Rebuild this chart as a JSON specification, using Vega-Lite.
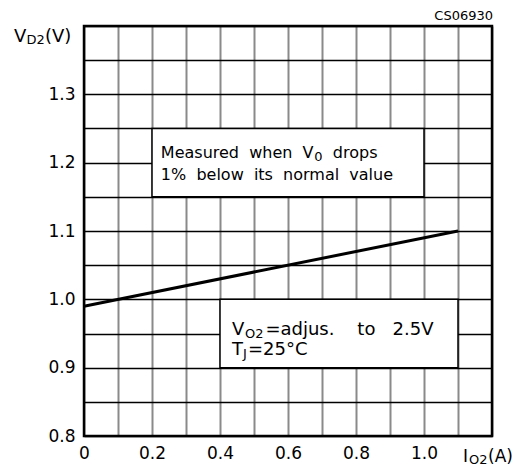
{
  "$schema": "https://vega.github.io/schema/vega-lite/v6.json",
  "width": 408,
  "height": 410,
  "autosize": {"type": "none"},
  "padding": {"left": 84, "top": 26, "right": 37, "bottom": 34},
  "background": "white",
  "config": {
    "view": {"stroke": null},
    "font": "DejaVu Sans",
    "axisX": {
      "tickCount": 12, "grid": true, "gridColor": "#8a8a8a", "gridWidth": 2, "gridOpacity": 1,
      "ticks": false, "domain": false, "labelFontSize": 17, "labelColor": "black",
      "labelPadding": 9, "labelFlush": false, "labelOverlap": false, "labelBound": false,
      "labelExpr": "datum.value == 0 ? '0' : ((round(datum.value*10) % 2 == 0 && datum.value < 1.15) ? format(datum.value, '.1f') : '')"
    },
    "axisY": {
      "tickCount": 12, "grid": true, "gridColor": "black", "gridWidth": 1.3, "gridOpacity": 1,
      "ticks": false, "domain": false, "labelFontSize": 17, "labelColor": "black",
      "labelPadding": 9, "labelFlush": false, "labelOverlap": false, "labelBound": false,
      "labelExpr": "(round(datum.value*100) % 10 == 0 && datum.value < 1.35) ? format(datum.value, '.1f') : ''"
    }
  },
  "layer": [
    {
      "data": {"values": [{"I": 0, "V": 0.99}, {"I": 1.1, "V": 1.1}]},
      "mark": {"type": "line", "color": "black", "strokeWidth": 3},
      "encoding": {
        "x": {"field": "I", "type": "quantitative", "scale": {"domain": [0, 1.2], "nice": false, "zero": false}, "axis": {"title": null}},
        "y": {"field": "V", "type": "quantitative", "scale": {"domain": [0.8, 1.4], "nice": false, "zero": false}, "axis": {"title": null}}
      }
    },
    {
      "data": {"values": [{}]},
      "mark": {"type": "rect", "fill": "white", "stroke": "black", "strokeWidth": 1.5},
      "encoding": {"x": {"datum": 0.2}, "x2": {"datum": 1.0}, "y": {"datum": 1.15}, "y2": {"datum": 1.25}}
    },
    {
      "data": {"values": [{}]},
      "mark": {"type": "rect", "fill": "white", "stroke": "black", "strokeWidth": 1.5},
      "encoding": {"x": {"datum": 0.4}, "x2": {"datum": 1.1}, "y": {"datum": 0.9}, "y2": {"datum": 1.0}}
    },
    {
      "data": {"values": [{}]},
      "mark": {"type": "rect", "fillOpacity": 0, "stroke": "black", "strokeWidth": 2.5},
      "encoding": {"x": {"datum": 0}, "x2": {"datum": 1.2}, "y": {"datum": 0.8}, "y2": {"datum": 1.4}}
    },
    {
      "data": {"values": [{}]},
      "mark": {"type": "text", "align": "left", "baseline": "alphabetic", "fontSize": 16, "text": "Measured\u00a0\u00a0when\u00a0\u00a0V"},
      "encoding": {"x": {"datum": 0.226}, "y": {"datum": 1.2067}}
    },
    {
      "data": {"values": [{}]},
      "mark": {"type": "text", "align": "left", "baseline": "alphabetic", "fontSize": 13, "dx": 153.5, "dy": 3, "text": "0"},
      "encoding": {"x": {"datum": 0.226}, "y": {"datum": 1.2067}}
    },
    {
      "data": {"values": [{}]},
      "mark": {"type": "text", "align": "left", "baseline": "alphabetic", "fontSize": 16, "dx": 172, "text": "drops"},
      "encoding": {"x": {"datum": 0.226}, "y": {"datum": 1.2067}}
    },
    {
      "data": {"values": [{}]},
      "mark": {"type": "text", "align": "left", "baseline": "alphabetic", "fontSize": 16, "text": "1%\u00a0\u00a0below\u00a0\u00a0its\u00a0\u00a0normal\u00a0\u00a0value"},
      "encoding": {"x": {"datum": 0.226}, "y": {"datum": 1.1745}}
    },
    {
      "data": {"values": [{}]},
      "mark": {"type": "text", "align": "left", "baseline": "alphabetic", "fontSize": 18, "text": "V"},
      "encoding": {"x": {"datum": 0.435}, "y": {"datum": 0.9476}}
    },
    {
      "data": {"values": [{}]},
      "mark": {"type": "text", "align": "left", "baseline": "alphabetic", "fontSize": 13, "dx": 13, "dy": 3, "text": "O2"},
      "encoding": {"x": {"datum": 0.435}, "y": {"datum": 0.9476}}
    },
    {
      "data": {"values": [{}]},
      "mark": {"type": "text", "align": "left", "baseline": "alphabetic", "fontSize": 18, "dx": 33.5, "text": "=adjus.\u00a0\u00a0\u00a0\u00a0to\u00a0\u00a0\u00a02.5V"},
      "encoding": {"x": {"datum": 0.435}, "y": {"datum": 0.9476}}
    },
    {
      "data": {"values": [{}]},
      "mark": {"type": "text", "align": "left", "baseline": "alphabetic", "fontSize": 18, "text": "T"},
      "encoding": {"x": {"datum": 0.435}, "y": {"datum": 0.918}}
    },
    {
      "data": {"values": [{}]},
      "mark": {"type": "text", "align": "left", "baseline": "alphabetic", "fontSize": 13, "dx": 11, "dy": 3, "text": "J"},
      "encoding": {"x": {"datum": 0.435}, "y": {"datum": 0.918}}
    },
    {
      "data": {"values": [{}]},
      "mark": {"type": "text", "align": "left", "baseline": "alphabetic", "fontSize": 18, "dx": 16, "text": "=25°C"},
      "encoding": {"x": {"datum": 0.435}, "y": {"datum": 0.918}}
    },
    {
      "data": {"values": [{}]},
      "mark": {"type": "text", "align": "left", "baseline": "alphabetic", "fontSize": 18, "text": "V"},
      "encoding": {"x": {"datum": -0.2059}, "y": {"datum": 1.3766}}
    },
    {
      "data": {"values": [{}]},
      "mark": {"type": "text", "align": "left", "baseline": "alphabetic", "fontSize": 13, "dx": 12.5, "dy": 2, "text": "D2"},
      "encoding": {"x": {"datum": -0.2059}, "y": {"datum": 1.3766}}
    },
    {
      "data": {"values": [{}]},
      "mark": {"type": "text", "align": "left", "baseline": "alphabetic", "fontSize": 18, "dx": 31, "text": "(V)"},
      "encoding": {"x": {"datum": -0.2059}, "y": {"datum": 1.3766}}
    },
    {
      "data": {"values": [{}]},
      "mark": {"type": "text", "align": "left", "baseline": "alphabetic", "fontSize": 17, "text": "I"},
      "encoding": {"x": {"datum": 1.1147}, "y": {"datum": 0.7616}}
    },
    {
      "data": {"values": [{}]},
      "mark": {"type": "text", "align": "left", "baseline": "alphabetic", "fontSize": 13, "dx": 6, "dy": 2, "text": "O2"},
      "encoding": {"x": {"datum": 1.1147}, "y": {"datum": 0.7616}}
    },
    {
      "data": {"values": [{}]},
      "mark": {"type": "text", "align": "left", "baseline": "alphabetic", "fontSize": 17, "dx": 25, "text": "(A)"},
      "encoding": {"x": {"datum": 1.1147}, "y": {"datum": 0.7616}}
    },
    {
      "data": {"values": [{}]},
      "mark": {"type": "text", "align": "right", "baseline": "alphabetic", "fontSize": 13, "text": "CS06930"},
      "encoding": {"x": {"datum": 1.2029}, "y": {"datum": 1.4088}}
    }
  ]
}
